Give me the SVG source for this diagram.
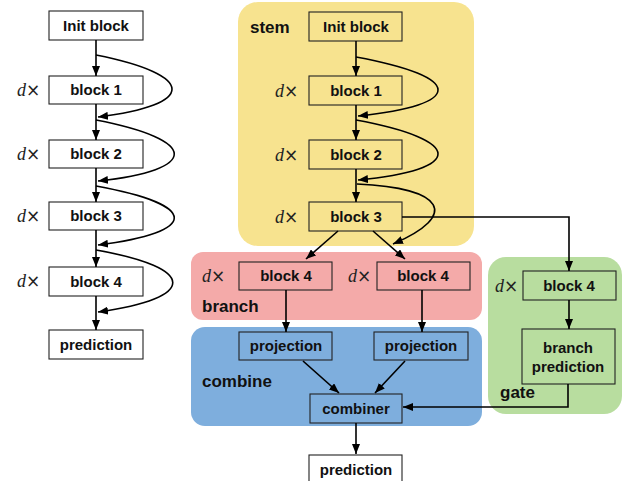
<svg xmlns="http://www.w3.org/2000/svg" width="623" height="481" viewBox="0 0 623 481">
<defs>
<marker id="ah" markerUnits="userSpaceOnUse" markerWidth="10" markerHeight="8" refX="10" refY="4" orient="auto">
<path d="M0,0 L10,4 L0,8 z" fill="#000"/>
</marker>
<style>
.box{stroke:#222;stroke-width:1.1}
.t{font-family:"Liberation Sans",Arial,sans-serif;font-weight:bold;font-size:15px;text-anchor:middle;fill:#111}
.lab{font-family:"Liberation Sans",Arial,sans-serif;font-weight:bold;font-size:17px;fill:#111}
.dx{font-family:"Liberation Serif","Times New Roman",serif;font-size:18px;fill:#222}
.dx tspan.d{font-style:italic}
.dx tspan.x{font-family:"DejaVu Sans",sans-serif;font-size:17px}
.c{fill:none;stroke:#000;stroke-width:1.6;marker-end:url(#ah)}
</style>
</defs>
<g id="panels">
<rect id="stem" x="238" y="2" width="236" height="244" rx="20" fill="#F7E38F"/>
<rect id="branch" x="191" y="252" width="291" height="68" rx="12" fill="#F4AAA9"/>
<rect id="combine" x="191" y="327" width="291" height="99" rx="14" fill="#7EAEDD"/>
<rect id="gate" x="488" y="257" width="134" height="157" rx="18" fill="#B8DD9F"/>
<text class="lab" x="250" y="33">stem</text>
<text class="lab" x="202" y="312">branch</text>
<text class="lab" x="202" y="387">combine</text>
<text class="lab" x="500" y="398">gate</text>
</g>
<g id="left-column">
<g id="l-init"><rect class="box" x="49" y="11" width="94" height="29" fill="#fff"/><text class="t" x="96" y="31">Init block</text></g>
<g id="l-b1"><text class="dx" x="17" y="96"><tspan class="d">d</tspan><tspan class="x">×</tspan></text><rect class="box" x="49" y="76" width="94" height="28" fill="#fff"/><text class="t" x="96" y="95">block 1</text></g>
<g id="l-b2"><text class="dx" x="17" y="160"><tspan class="d">d</tspan><tspan class="x">×</tspan></text><rect class="box" x="49" y="140" width="94" height="28" fill="#fff"/><text class="t" x="96" y="159">block 2</text></g>
<g id="l-b3"><text class="dx" x="17" y="222"><tspan class="d">d</tspan><tspan class="x">×</tspan></text><rect class="box" x="49" y="202" width="94" height="28" fill="#fff"/><text class="t" x="96" y="221">block 3</text></g>
<g id="l-b4"><text class="dx" x="17" y="287"><tspan class="d">d</tspan><tspan class="x">×</tspan></text><rect class="box" x="49" y="267" width="94" height="29" fill="#fff"/><text class="t" x="96" y="287">block 4</text></g>
<g id="l-pred"><rect class="box" x="49" y="330" width="94" height="29" fill="#fff"/><text class="t" x="96" y="350">prediction</text></g>
</g>
<g id="stem-nodes">
<g id="s-init"><rect class="box" x="309" y="12" width="93" height="29" fill="none"/><text class="t" x="356" y="32">Init block</text></g>
<g id="s-b1"><text class="dx" x="275" y="97"><tspan class="d">d</tspan><tspan class="x">×</tspan></text><rect class="box" x="309" y="76" width="93" height="29" fill="none"/><text class="t" x="356" y="96">block 1</text></g>
<g id="s-b2"><text class="dx" x="275" y="161"><tspan class="d">d</tspan><tspan class="x">×</tspan></text><rect class="box" x="309" y="140" width="93" height="29" fill="none"/><text class="t" x="356" y="160">block 2</text></g>
<g id="s-b3"><text class="dx" x="275" y="223"><tspan class="d">d</tspan><tspan class="x">×</tspan></text><rect class="box" x="309" y="202" width="93" height="29" fill="none"/><text class="t" x="356" y="222">block 3</text></g>
</g>
<g id="branch-nodes">
<g id="br-b4a"><text class="dx" x="202" y="282"><tspan class="d">d</tspan><tspan class="x">×</tspan></text><rect class="box" x="239" y="262" width="93" height="28" fill="none"/><text class="t" x="286" y="281">block 4</text></g>
<g id="br-b4b"><text class="dx" x="348" y="282"><tspan class="d">d</tspan><tspan class="x">×</tspan></text><rect class="box" x="377" y="262" width="93" height="28" fill="none"/><text class="t" x="423" y="281">block 4</text></g>
</g>
<g id="combine-nodes">
<g id="proj-a"><rect class="box" x="239" y="332" width="93" height="28" fill="none"/><text class="t" x="286" y="351">projection</text></g>
<g id="proj-b"><rect class="box" x="374" y="332" width="94" height="28" fill="none"/><text class="t" x="421" y="351">projection</text></g>
<g id="combiner"><rect class="box" x="310" y="394" width="92" height="29" fill="none"/><text class="t" x="356" y="414">combiner</text></g>
</g>
<g id="gate-nodes">
<g id="g-b4"><text class="dx" x="495" y="292"><tspan class="d">d</tspan><tspan class="x">×</tspan></text><rect class="box" x="523" y="271" width="93" height="29" fill="none"/><text class="t" x="569" y="291">block 4</text></g>
<g id="g-bp"><rect class="box" x="522" y="329" width="93" height="55" fill="none"/><text class="t" x="568" y="353">branch</text><text class="t" x="568" y="372">prediction</text></g>
</g>
<g id="r-pred"><rect class="box" x="309" y="455" width="93" height="30" fill="#fff"/><text class="t" x="356" y="475">prediction</text></g>
<g id="connectors">
<path class="c" d="M96,40 V76"/>
<path class="c" d="M96,104 V140"/>
<path class="c" d="M96,168 V202"/>
<path class="c" d="M96,230 V267"/>
<path class="c" d="M96,296 V330"/>
<path class="c" d="M96,55 C197,75 197,105 98,117"/>
<path class="c" d="M96,120 C200,140 200,170 98,181"/>
<path class="c" d="M96,186 C200,205 200,232 98,245"/>
<path class="c" d="M96,250 C198,268 198,298 98,312"/>
<path class="c" d="M356,41 V76"/>
<path class="c" d="M356,105 V140"/>
<path class="c" d="M356,169 V202"/>
<path class="c" d="M356,57 C465,77 465,105 358,116"/>
<path class="c" d="M356,120 C465,140 465,170 358,180"/>
<path class="c" d="M357,184 C445,188 460,215 393,244"/>
<path class="c" d="M338,231 L306,259"/>
<path class="c" d="M373,231 L405,259"/>
<path class="c" d="M402,217 H569 V271"/>
<path class="c" d="M286,290 V332"/>
<path class="c" d="M422,290 V332"/>
<path class="c" d="M303,361 L339,393"/>
<path class="c" d="M405,361 L375,393"/>
<path class="c" d="M356,423 V454"/>
<path class="c" d="M569,300 V329"/>
<path class="c" d="M568,384 V407 H403"/>
</g>
</svg>
